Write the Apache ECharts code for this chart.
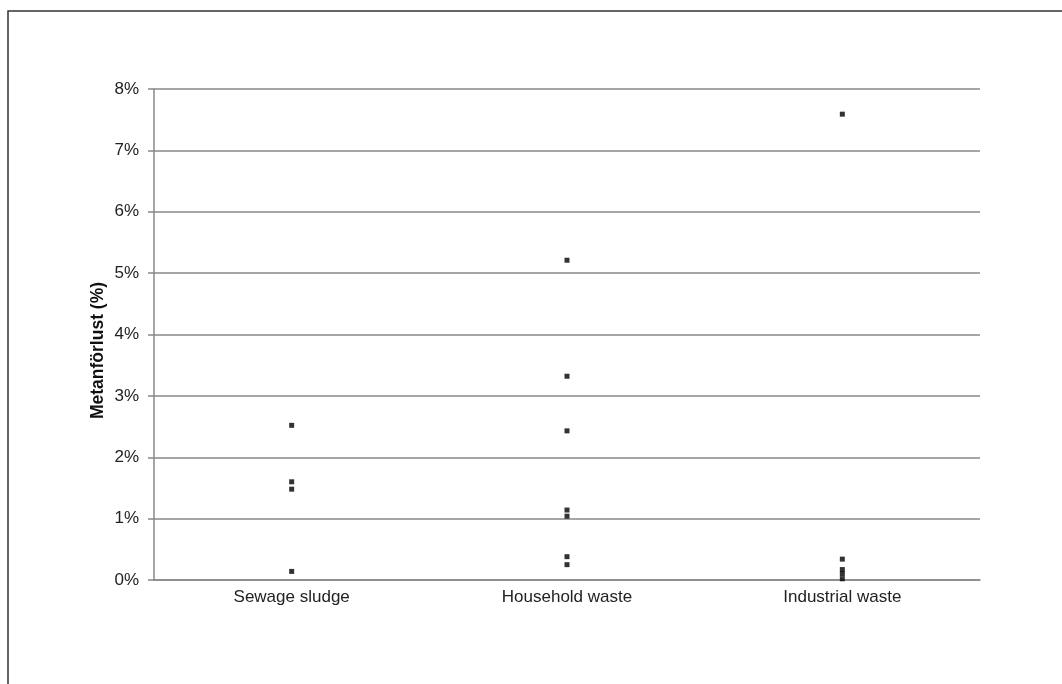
<!DOCTYPE html>
<html>
<head>
<meta charset="utf-8">
<script src="https://cdn.jsdelivr.net/npm/echarts@6/dist/echarts.min.js"></script>
<style>html,body{margin:0;padding:0;background:#fff}#c{width:1062px;height:684px}</style>
</head>
<body>
<div id="c"></div>
<script>
const categories = ['Sewage sludge', 'Household waste', 'Industrial waste'];
const sewageSludge = [2.52, 1.60, 1.48, 0.14];
const householdWaste = [5.21, 3.32, 2.43, 1.14, 1.04, 0.38, 0.25];
const industrialWaste = [7.59, 0.34, 0.17, 0.10, 0.02];
const yTicks = [0, 1, 2, 3, 4, 5, 6, 7, 8];

const points = [];
[sewageSludge, householdWaste, industrialWaste].forEach((arr, i) => {
  arr.forEach(v => points.push([categories[i], v]));
});

const chart = echarts.init(document.getElementById('c'), null, {renderer: 'canvas'});
chart.setOption({
  animation: false,
  backgroundColor: '#fff',
  graphic: [{
    type: 'rect',
    shape: {x: 8, y: 11, width: 1200, height: 800},
    style: {fill: 'none', stroke: '#333', lineWidth: 1.5},
    silent: true
  }],
  grid: {left: 154, top: 89, right: 82, bottom: 104},
  xAxis: {
    type: 'category',
    data: categories,
    boundaryGap: true,
    axisLine: {lineStyle: {color: '#888', width: 1.5}},
    axisTick: {show: false},
    axisLabel: {color: '#222', fontSize: 17, fontFamily: 'Liberation Sans, Arial', margin: 9},
    splitLine: {show: false}
  },
  yAxis: {
    type: 'value',
    min: yTicks[0],
    max: yTicks[yTicks.length - 1],
    interval: 1,
    name: 'Metanförlust (%)',
    nameLocation: 'middle',
    nameGap: 47,
    nameMoveOverlap: false,
    nameRotate: 90,
    nameTextStyle: {color: '#111', fontSize: 17.5, fontWeight: 'bold', fontFamily: 'Liberation Sans, Arial', padding: [0, 32, 0, 0]},
    axisLine: {show: true, lineStyle: {color: '#888', width: 1.5}},
    axisTick: {show: true, inside: false, length: 6, lineStyle: {color: '#888', width: 1.5}},
    axisLabel: {color: '#222', fontSize: 17, fontFamily: 'Liberation Sans, Arial', margin: 15, formatter: v => v + '%'},
    splitLine: {show: true, lineStyle: {color: '#888', width: 1.5}}
  },
  series: [{
    type: 'scatter',
    data: points,
    symbol: 'rect',
    symbolSize: 5,
    itemStyle: {color: '#000'}
  }]
});
</script>
</body>
</html>
